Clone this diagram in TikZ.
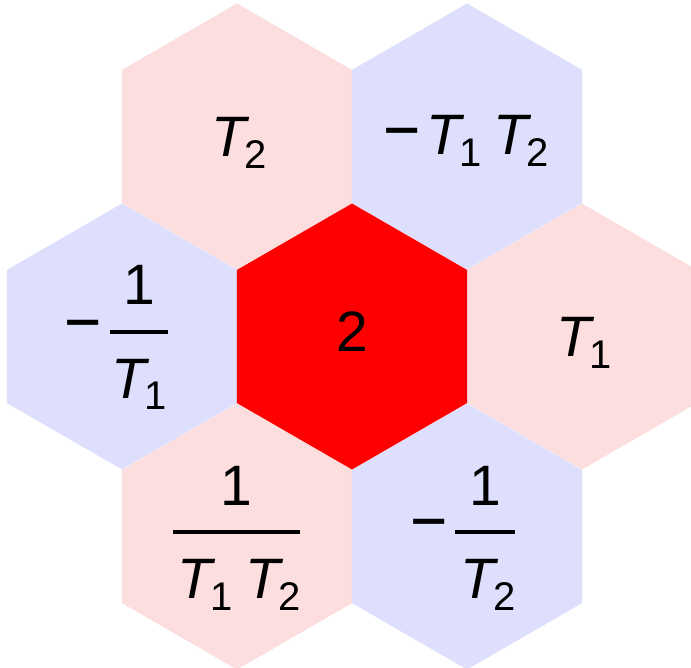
\documentclass[tikz,border=0pt]{standalone}
\usepackage{fontspec}
\usepackage{graphicx}
\setmainfont{Liberation Sans}
\definecolor{hpink}{RGB}{253,222,222}
\definecolor{hblue}{RGB}{222,222,253}
\definecolor{hred}{RGB}{255,0,0}
\newcommand{\hexat}[3]{\fill[#3] (#1,#2) +(0,-133) -- +(115.2,-66.5) -- +(115.2,66.5) -- +(0,133) -- +(-115.2,66.5) -- +(-115.2,-66.5) -- cycle;}
\newcommand{\TT}[1]{\textit{T}\kern-5pt\raisebox{-12pt}{\fontsize{40}{40}\selectfont #1}}
\newcommand{\mn}{\scalebox{1.12}[1.25]{−}}
\begin{document}
\begin{tikzpicture}[x=1pt,y=-1pt,
  lbl/.style={font=\fontsize{57}{62}\selectfont, inner sep=0pt, anchor=base},
  mns/.style={font=\fontsize{57}{62}\selectfont, inner sep=0pt, anchor=center},
  fracbar/.style={line width=4pt}]
\useasboundingbox (0,0) rectangle (691,668);
\begin{scope}
\clip (0,0) rectangle (691,668);
\hexat{237}{136.5}{hpink}
\hexat{467}{136.5}{hblue}
\hexat{122}{336.5}{hblue}
\hexat{582}{336.5}{hpink}
\hexat{237}{536.5}{hpink}
\hexat{467}{536.5}{hblue}
\hexat{352}{336.5}{hred}
\end{scope}
% top-left
\node[lbl] (tl) at (239,157) {\TT{2}};
% top-right
\node[lbl] (tr) at (466.5,155) {\mn\hspace{5pt}\TT{1}\hspace{12pt}\TT{2}};
% center
\node[lbl] (c) at (352,352) {2};
% right
\node[lbl] (r) at (584.5,357) {\TT{1}};
% left fraction
\node[mns] (lm) at (83,333) {\mn};
\node[lbl] (ln) at (139,305) {1};
\draw[fracbar] (110,332) -- (168,332);
\node[lbl] (ld) at (139.5,398) {\TT{1}};
% bottom-left fraction
\node[lbl] (bln) at (236,505) {1};
\draw[fracbar] (173,532) -- (300,532);
\node[lbl] (bld) at (239,598) {\TT{1}\hspace{12pt}\TT{2}};
% bottom-right fraction
\node[mns] (brm) at (429,532) {\mn};
\node[lbl] (brn) at (485,505) {1};
\draw[fracbar] (455,532) -- (515,532);
\node[lbl] (brd) at (488,598) {\TT{2}};
\end{tikzpicture}
\end{document}
